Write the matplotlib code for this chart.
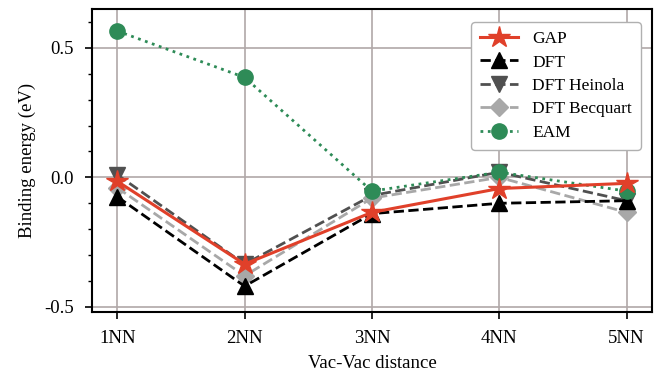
import numpy as np
import matplotlib.pyplot as plt
from matplotlib.ticker import MultipleLocator

plt.rcParams['font.family'] = ['Liberation Serif', 'DejaVu Serif']
plt.rcParams['font.size'] = 13.5

labels = ['1NN', '2NN', '3NN', '4NN', '5NN']
gap = [-0.015, -0.335, -0.135, -0.043, -0.023]
dft = [-0.075, -0.42, -0.14, -0.10, -0.09]
heinola = [0.01, -0.335, -0.07, 0.02, -0.09]
becquart = [-0.04, -0.38, -0.08, 0.0, -0.135]
eam = [0.565, 0.386, -0.053, 0.02, -0.053]

x = np.arange(1, len(labels) + 1)

fig, ax = plt.subplots(figsize=(6.56, 3.76), dpi=100)
fig.subplots_adjust(left=0.14, right=0.994, top=0.976, bottom=0.17)

ax.plot(x, gap, color='#e0402a', ls='-', lw=2.2, marker='*', ms=16, label='GAP', zorder=5)
ax.plot(x, dft, color='black', ls='--', lw=2, marker='^', ms=11, label='DFT', zorder=4)
ax.plot(x, heinola, color='#505050', ls='--', lw=2, marker='v', ms=11, label='DFT Heinola', zorder=3)
ax.plot(x, becquart, color='#a8a8a8', ls='--', lw=2, marker='D', ms=9, label='DFT Becquart', zorder=3)
ax.plot(x, eam, color='#2e8b57', ls=':', lw=2, marker='o', ms=11, label='EAM', zorder=4)

ax.set_xlim(0.8, 5.2)
ax.set_ylim(-0.52, 0.65)
ax.set_xticks(x)
ax.set_xticklabels(labels)
ax.yaxis.set_major_locator(MultipleLocator(0.5))
ax.yaxis.set_minor_locator(MultipleLocator(0.1))
ax.yaxis.set_major_formatter(plt.FuncFormatter(lambda v, p: f'{v:.1f}'))
ax.tick_params(direction='out', length=5, width=1.2, pad=8)
ax.tick_params(which='minor', length=3, width=1)
ax.grid(True, which='major', color='#b0a8a8', lw=1.2)
for s in ax.spines.values():
    s.set_linewidth(1.5)

ax.set_xlabel('Vac-Vac distance', labelpad=6)
ax.set_ylabel('Binding energy (eV)', labelpad=6)
leg = ax.legend(loc='upper right', fontsize=12.5, framealpha=1, edgecolor='#b0b0b0',
                handlelength=2.2, borderpad=0.5, labelspacing=0.42,
                bbox_to_anchor=(0.995, 0.985))

plt.savefig('out.png', dpi=100)
